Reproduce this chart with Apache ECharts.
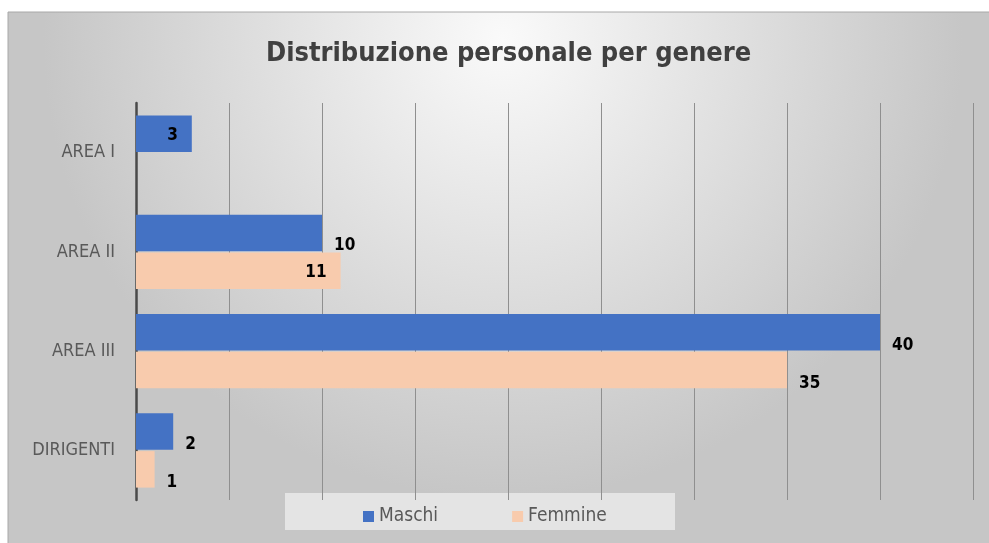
<!DOCTYPE html>
<html>
<head>
<meta charset="utf-8">
<script src="https://cdn.jsdelivr.net/npm/echarts@6/dist/echarts.min.js"></script>
<style>
  html, body { margin: 0; padding: 0; background: #fff; }
  #chart { width: 989px; height: 543px; }
</style>
</head>
<body>
<div id="chart"></div>
<script>
const categories = ['AREA I', 'AREA II', 'AREA III', 'DIRIGENTI'];
const maschi = [3, 10, 40, 2];
const femmine = [0, 11, 35, 1];

const FONT = "'Liberation Sans Narrow', 'DejaVu Sans Condensed', sans-serif";

// Excel "best fit" labels: a few sit inside the bar end, the rest just outside and lower
const insideKeys = { 'Maschi-0': true, 'Femmine-1': true };

function buildData(name, values) {
  return values.map((v, i) => {
    if (!v) return { value: v, label: { show: false } };
    if (insideKeys[name + '-' + i]) {
      return { value: v, label: { position: 'insideRight', distance: 14, offset: [0, 2] } };
    }
    return { value: v, label: { position: 'right', distance: 12, offset: [0, 13] } };
  });
}

const chart = echarts.init(document.getElementById('chart'));

const option = {
  animation: false,
  graphic: [
    {
      type: 'rect',
      z: -100,
      shape: { x: 8, y: 12, width: 990, height: 540 },
      style: {
        fill: {
          type: 'radial', x: 0.5, y: 0.05, r: 0.85,
          colorStops: [
            { offset: 0, color: '#fafafa' },
            { offset: 1, color: '#c6c6c6' }
          ]
        },
        stroke: '#a8a8a8',
        lineWidth: 1
      }
    },
    {
      type: 'rect',
      z: -50,
      shape: { x: 285, y: 493, width: 390, height: 37 },
      style: { fill: 'rgba(238,238,238,0.75)' }
    }
  ],
  title: {
    text: 'Distribuzione personale per genere',
    left: 261,
    top: 35,
    textStyle: { fontFamily: FONT, fontSize: 27, fontWeight: 'bold', color: '#404040' }
  },
  legend: {
    left: 358,
    top: 502,
    itemWidth: 11,
    itemHeight: 11,
    itemGap: 74,
    icon: 'rect',
    textStyle: { fontFamily: FONT, fontSize: 19, color: '#595959' },
    data: ['Maschi', 'Femmine']
  },
  grid: { left: 136, right: 16, top: 103, bottom: 43, containLabel: false },
  xAxis: {
    type: 'value',
    min: 0,
    max: 45,
    interval: 5,
    axisLabel: { show: false },
    axisLine: { show: false },
    axisTick: { show: false },
    splitLine: { lineStyle: { color: '#8f8f8f', width: 1 } }
  },
  yAxis: {
    type: 'category',
    inverse: true,
    data: categories,
    axisLine: { lineStyle: { color: '#4a4a4a', width: 2.5 } },
    axisTick: { show: false },
    axisLabel: { fontFamily: FONT, fontSize: 18, color: '#595959', margin: 21 }
  },
  series: [
    {
      name: 'Maschi',
      type: 'bar',
      data: buildData('Maschi', maschi),
      barGap: '4%',
      barCategoryGap: '25%',
      itemStyle: { color: '#4472c4' },
      label: { show: true, fontFamily: FONT, fontSize: 17, fontWeight: 'bold', color: '#000' }
    },
    {
      name: 'Femmine',
      type: 'bar',
      data: buildData('Femmine', femmine),
      barGap: '4%',
      barCategoryGap: '25%',
      itemStyle: { color: '#f8cbad' },
      label: { show: true, fontFamily: FONT, fontSize: 17, fontWeight: 'bold', color: '#000' }
    }
  ]
};

chart.setOption(option);
</script>
</body>
</html>
